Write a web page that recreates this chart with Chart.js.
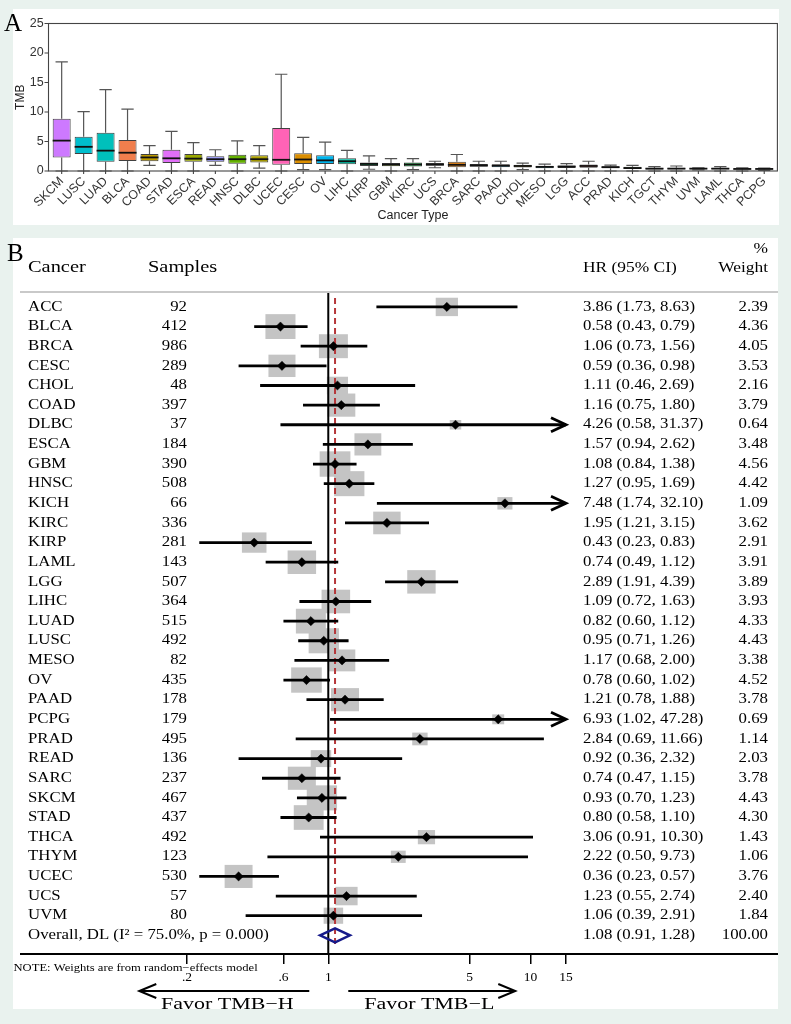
<!DOCTYPE html>
<html>
<head>
<meta charset="utf-8">
<script src="https://cdn.jsdelivr.net/npm/chart.js@4.4.1/dist/chart.umd.min.js"></script>
<style>
  body { margin: 0; background: #e9f2ee; }
  #page { position: relative; width: 791px; height: 1024px; overflow: hidden; background: #e9f2ee; }
  .panel { position: absolute; background: #fff; }
  .panel canvas { display: block; }
  #panelA { left: 13px; top: 9px; width: 766px; height: 216px; }
  #panelB { left: 13px; top: 238px; width: 765px; height: 771px; }
  .tag { position: absolute; z-index: 2; font-family: 'Liberation Serif', serif; font-size: 25px; line-height: 25px; color: #000; }
</style>
</head>
<body>
<div id="page">
  <div class="panel" id="panelA"><canvas id="tmbChart" width="766" height="216"></canvas></div>
  <div class="panel" id="panelB"><canvas id="forestChart" width="765" height="771"></canvas></div>
  <div class="tag" style="left:4px; top:10px;">A</div>
  <div class="tag" style="left:7px; top:240px;">B</div>
</div>
<script>
// ---- A: TMB per cancer type (box stats)
const tmbCancers = ['SKCM','LUSC','LUAD','BLCA','COAD','STAD','ESCA','READ','HNSC','DLBC','UCEC','CESC','OV','LIHC','KIRP','GBM','KIRC','UCS','BRCA','SARC','PAAD','CHOL','MESO','LGG','ACC','PRAD','KICH','TGCT','THYM','UVM','LAML','THCA','PCPG'];
const tmbMin    = [0,0,0,0,0.95,0,0,0.95,0,0.5,0,0.25,0.25,0,0.3,0,0.25,0.55,0,0,0,0.25,0,0,0,0,0,0,0,0.2,0,0,0.1];
const tmbQ1     = [2.3,2.9,1.55,1.7,1.65,1.35,1.55,1.55,1.25,1.45,1.05,1.2,1.2,1.15,0.85,0.8,0.75,0.9,0.65,0.7,0.65,0.6,0.45,0.5,0.55,0.45,0.35,0.25,0.3,0.3,0.3,0.25,0.25];
const tmbMedian = [5.15,4.1,3.45,3.1,2.3,2.15,2.1,2.0,2.0,2.0,1.9,1.95,1.8,1.65,1.2,1.1,1.1,1.1,1.05,0.95,0.9,0.85,0.7,0.75,0.85,0.65,0.5,0.4,0.4,0.4,0.4,0.35,0.35];
const tmbQ3     = [8.85,5.8,6.5,5.25,2.9,3.6,2.9,2.5,2.75,2.65,7.3,3.0,2.65,2.15,1.45,1.35,1.45,1.35,1.55,1.2,1.15,1.05,0.9,0.95,1.1,0.8,0.7,0.5,0.55,0.45,0.5,0.4,0.4];
const tmbMax    = [18.5,10.05,13.8,10.5,4.3,6.7,4.8,3.6,5.1,4.3,16.4,5.7,4.9,3.5,2.55,2.1,2.1,1.65,2.8,1.65,1.65,1.35,1.15,1.25,1.65,1.0,0.95,0.75,0.85,0.55,0.75,0.55,0.5];

// ---- B: forest plot
const fpCancers = ['ACC','BLCA','BRCA','CESC','CHOL','COAD','DLBC','ESCA','GBM','HNSC','KICH','KIRC','KIRP','LAML','LGG','LIHC','LUAD','LUSC','MESO','OV','PAAD','PCPG','PRAD','READ','SARC','SKCM','STAD','THCA','THYM','UCEC','UCS','UVM'];
const fpSamples = [92,412,986,289,48,397,37,184,390,508,66,336,281,143,507,364,515,492,82,435,178,179,495,136,237,467,437,492,123,530,57,80];
const fpHR      = [3.86,0.58,1.06,0.59,1.11,1.16,4.26,1.57,1.08,1.27,7.48,1.95,0.43,0.74,2.89,1.09,0.82,0.95,1.17,0.78,1.21,6.93,2.84,0.92,0.74,0.93,0.80,3.06,2.22,0.36,1.23,1.06];
const fpLower   = [1.73,0.43,0.73,0.36,0.46,0.75,0.58,0.94,0.84,0.95,1.74,1.21,0.23,0.49,1.91,0.72,0.60,0.71,0.68,0.60,0.78,1.02,0.69,0.36,0.47,0.70,0.58,0.91,0.50,0.23,0.55,0.39];
const fpUpper   = [8.63,0.79,1.56,0.98,2.69,1.80,31.37,2.62,1.38,1.69,32.10,3.15,0.83,1.12,4.39,1.63,1.12,1.26,2.00,1.02,1.88,47.28,11.66,2.32,1.15,1.23,1.10,10.30,9.73,0.57,2.74,2.91];
const fpWeight  = [2.39,4.36,4.05,3.53,2.16,3.79,0.64,3.48,4.56,4.42,1.09,3.62,2.91,3.91,3.89,3.93,4.33,4.43,3.38,4.52,3.78,0.69,1.14,2.03,3.78,4.43,4.30,1.43,1.06,3.76,2.40,1.84];
const overallLabel = 'Overall, DL (I\u00B2 = 75.0%, p = 0.000)';
const overallHR = 1.08, overallLower = 0.91, overallUpper = 1.28, overallWeight = 100;
const xTickValues = [0.2, 0.6, 1, 5, 10, 15];
const xTickLabels = ['.2', '.6', '1', '5', '10', '15'];

// ggplot-like hue palette (hcl, c=100, l=65), assigned in alphabetical order
function hcl(h, c, l) {
  const hr = h * Math.PI / 180;
  const U = c * Math.cos(hr), V = c * Math.sin(hr);
  const Xn = 95.047, Yn = 100, Zn = 108.883;
  const un = 4 * Xn / (Xn + 15 * Yn + 3 * Zn), vn = 9 * Yn / (Xn + 15 * Yn + 3 * Zn);
  const Y = l > 8 ? Yn * Math.pow((l + 16) / 116, 3) : Yn * l / 903.3;
  const u = U / (13 * l) + un, v = V / (13 * l) + vn;
  const X = Y * 9 * u / (4 * v), Z = Y * (12 - 3 * u - 20 * v) / (4 * v);
  const x = X / 100, y = Y / 100, z = Z / 100;
  const lin = [3.240479 * x - 1.537150 * y - 0.498535 * z,
              -0.969256 * x + 1.875992 * y + 0.041556 * z,
               0.055648 * x - 0.204043 * y + 1.057311 * z];
  const rgb = lin.map(t => {
    const g = t <= 0.0031308 ? 12.92 * t : 1.055 * Math.pow(t, 1 / 2.4) - 0.055;
    return Math.round(Math.min(1, Math.max(0, g)) * 255);
  });
  return 'rgb(' + rgb.join(',') + ')';
}
const sortedNames = [...tmbCancers].sort();
const boxColors = tmbCancers.map(c => hcl(15 + sortedNames.indexOf(c) * 360 / sortedNames.length, 100, 65));

const sans = 'Liberation Sans';
const serif = 'Liberation Serif';

const boxExtras = {
  id: 'boxExtras',
  beforeDatasetsDraw(chart) {
    const { ctx, scales: { x, y } } = chart;
    const bw = x.getPixelForValue(1) - x.getPixelForValue(0);
    const cap = bw * 0.28;
    ctx.save();
    ctx.strokeStyle = '#555';
    ctx.lineWidth = 1.2;
    tmbCancers.forEach((c, i) => {
      const cx = x.getPixelForValue(i);
      const yMax = y.getPixelForValue(tmbMax[i]), yMin = y.getPixelForValue(tmbMin[i]);
      ctx.beginPath();
      ctx.moveTo(cx, yMax); ctx.lineTo(cx, y.getPixelForValue(tmbQ3[i]));
      ctx.moveTo(cx, y.getPixelForValue(tmbQ1[i])); ctx.lineTo(cx, yMin);
      ctx.moveTo(cx - cap, yMax); ctx.lineTo(cx + cap, yMax);
      ctx.moveTo(cx - cap, yMin); ctx.lineTo(cx + cap, yMin);
      ctx.stroke();
    });
    ctx.restore();
  },
  afterDatasetsDraw(chart) {
    const { ctx, scales: { x, y } } = chart;
    const bars = chart.getDatasetMeta(0).data;
    ctx.save();
    ctx.strokeStyle = '#111';
    ctx.lineWidth = 1.8;
    tmbCancers.forEach((c, i) => {
      const w = bars[i].width / 2, cx = bars[i].x, my = y.getPixelForValue(tmbMedian[i]);
      ctx.beginPath(); ctx.moveTo(cx - w, my); ctx.lineTo(cx + w, my); ctx.stroke();
    });
    // panel frame with ggplot's 0.6 discrete expansion
    const bw = x.getPixelForValue(1) - x.getPixelForValue(0);
    const left = x.getPixelForValue(0) - 0.6 * bw;
    const right = x.getPixelForValue(tmbCancers.length - 1) + 0.6 * bw;
    const top = y.getPixelForValue(y.max), bottom = y.getPixelForValue(y.min);
    ctx.strokeStyle = '#444';
    ctx.lineWidth = 1.1;
    ctx.strokeRect(left, top, right - left, bottom - top);
    ctx.beginPath();
    y.ticks.forEach(t => { const ty = y.getPixelForValue(t.value); ctx.moveTo(left - 4, ty); ctx.lineTo(left, ty); });
    tmbCancers.forEach((c, i) => { const tx = x.getPixelForValue(i); ctx.moveTo(tx, bottom); ctx.lineTo(tx, bottom + 3); });
    ctx.stroke();
    ctx.restore();
  }
};

new Chart(document.getElementById('tmbChart'), {
  type: 'bar',
  data: {
    labels: tmbCancers,
    datasets: [{
      data: tmbCancers.map((c, i) => [tmbQ1[i], tmbQ3[i]]),
      backgroundColor: boxColors,
      borderColor: '#404040',
      borderWidth: 1,
      borderSkipped: false,
      barPercentage: 0.82,
      categoryPercentage: 1
    }]
  },
  options: {
    responsive: false,
    animation: false,
    layout: { padding: { left: 0, right: 3.8, top: 2, bottom: 0 } },
    plugins: { legend: { display: false }, tooltip: { enabled: false } },
    scales: {
      x: {
        grid: { display: false, tickLength: 3 },
        border: { display: false },
        ticks: { autoSkip: false, minRotation: 45, maxRotation: 45, padding: 0, color: '#333', font: { family: sans, size: 12.5 } },
        title: { display: true, text: 'Cancer Type', color: '#222', font: { family: sans, size: 12.5 }, padding: { top: 0, bottom: 2 } },
        afterFit: s => { s.height = 54; }
      },
      y: {
        min: 0,
        max: 25,
        grid: { display: false, drawTicks: false },
        border: { display: false },
        ticks: { stepSize: 5, padding: 7, color: '#333', font: { family: sans, size: 12.5 } },
        title: { display: true, text: 'TMB', color: '#222', font: { family: sans, size: 12 }, padding: 0 },
        afterFit: s => { s.width = 37.7; }
      }
    }
  },
  plugins: [boxExtras]
});

// ---- forest plot helpers
function stretchText(ctx, str, x, y, align, size, sx) {
  ctx.save();
  ctx.font = size + 'px "' + serif + '"';
  ctx.textAlign = align;
  ctx.textBaseline = 'middle';
  ctx.translate(x, y);
  ctx.scale(sx, 1);
  ctx.fillText(str, 0, 0);
  ctx.restore();
}
function arrowHead(ctx, tipX, y, dir, len, half) {
  ctx.beginPath();
  ctx.moveTo(tipX - dir * len, y - half);
  ctx.lineTo(tipX, y);
  ctx.lineTo(tipX - dir * len, y + half);
  ctx.stroke();
}

const forestExtras = {
  id: 'forestExtras',
  beforeDatasetsDraw(chart) {
    const { ctx, chartArea: area, scales: { x, y } } = chart;
    const xmax = x.max, xmin = x.min;
    ctx.save();
    // weight boxes
    ctx.fillStyle = '#c4c4c4';
    fpCancers.forEach((c, i) => {
      const s = Math.sqrt(fpWeight[i]);
      const w = 14.4 * s, h = 11.9 * s;
      ctx.fillRect(x.getPixelForValue(fpHR[i]) - w / 2, y.getPixelForValue(i) - h / 2, w, h);
    });
    // null line and overall line
    ctx.strokeStyle = '#000';
    ctx.lineWidth = 2;
    const x1 = x.getPixelForValue(1);
    ctx.beginPath(); ctx.moveTo(x1, area.top); ctx.lineTo(x1, area.bottom); ctx.stroke();
    ctx.strokeStyle = '#b5373a';
    ctx.setLineDash([6, 4]);
    const xo = x.getPixelForValue(overallHR);
    ctx.beginPath(); ctx.moveTo(xo, y.getPixelForValue(-0.45)); ctx.lineTo(xo, y.getPixelForValue(fpCancers.length + 0.45)); ctx.stroke();
    ctx.setLineDash([]);
    // confidence intervals
    ctx.strokeStyle = '#000';
    ctx.lineWidth = 2.8;
    ctx.lineJoin = 'miter';
    fpCancers.forEach((c, i) => {
      const py = y.getPixelForValue(i);
      const a = x.getPixelForValue(Math.max(fpLower[i], xmin));
      const b = x.getPixelForValue(Math.min(fpUpper[i], xmax));
      ctx.beginPath(); ctx.moveTo(a, py); ctx.lineTo(b, py); ctx.stroke();
      if (fpUpper[i] > xmax) arrowHead(ctx, b, py, 1, 15, 7);
    });
    ctx.restore();
  },
  afterDraw(chart) {
    const { ctx, chartArea: area, scales: { x, y }, width } = chart;
    ctx.save();
    // overall diamond
    const oy = y.getPixelForValue(fpCancers.length);
    ctx.strokeStyle = '#161a8a';
    ctx.lineWidth = 2.5;
    ctx.beginPath();
    ctx.moveTo(x.getPixelForValue(overallLower), oy);
    ctx.lineTo(x.getPixelForValue(overallHR), oy - 7);
    ctx.lineTo(x.getPixelForValue(overallUpper), oy);
    ctx.lineTo(x.getPixelForValue(overallHR), oy + 7);
    ctx.closePath();
    ctx.stroke();
    // header rule and axis rule
    ctx.strokeStyle = '#c9c9c9';
    ctx.lineWidth = 2;
    ctx.beginPath(); ctx.moveTo(7, area.top); ctx.lineTo(width, area.top); ctx.stroke();
    ctx.strokeStyle = '#000';
    ctx.beginPath(); ctx.moveTo(7, area.bottom); ctx.lineTo(width, area.bottom); ctx.stroke();
    // text columns
    ctx.fillStyle = '#000';
    const sx = 1.2;
    const colName = 15, colN = 174, colHR = 570, colW = 755;
    const headY = area.top - 24;
    stretchText(ctx, 'Cancer', colName, headY, 'left', 17, sx);
    stretchText(ctx, 'Samples', 135, headY, 'left', 17, sx);
    stretchText(ctx, 'HR (95% CI)', colHR, headY, 'left', 14.5, sx);
    stretchText(ctx, 'Weight', colW, headY, 'right', 14.5, sx);
    stretchText(ctx, '%', colW, headY - 19, 'right', 14.5, sx);
    fpCancers.forEach((c, i) => {
      const py = y.getPixelForValue(i);
      stretchText(ctx, c, colName, py, 'left', 14, sx);
      stretchText(ctx, String(fpSamples[i]), colN, py, 'right', 14, sx);
      stretchText(ctx, fpHR[i].toFixed(2) + ' (' + fpLower[i].toFixed(2) + ', ' + fpUpper[i].toFixed(2) + ')', colHR, py, 'left', 14, sx);
      stretchText(ctx, fpWeight[i].toFixed(2), colW, py, 'right', 14, sx);
    });
    stretchText(ctx, overallLabel, colName, oy, 'left', 14, sx);
    stretchText(ctx, overallHR.toFixed(2) + ' (' + overallLower.toFixed(2) + ', ' + overallUpper.toFixed(2) + ')', colHR, oy, 'left', 14, sx);
    stretchText(ctx, overallWeight.toFixed(2), colW, oy, 'right', 14, sx);
    stretchText(ctx, 'NOTE: Weights are from random\u2212effects model', 0.5, area.bottom + 14, 'left', 10.5, sx);
    // favour arrows
    const x1 = x.getPixelForValue(1);
    const ay = area.bottom + 37;
    ctx.lineWidth = 2;
    ctx.beginPath(); ctx.moveTo(x1 - 19, ay); ctx.lineTo(x1 - 189, ay); ctx.stroke();
    arrowHead(ctx, x1 - 189, ay, -1, 17, 7);
    ctx.beginPath(); ctx.moveTo(x1 + 20, ay); ctx.lineTo(x1 + 187, ay); ctx.stroke();
    arrowHead(ctx, x1 + 187, ay, 1, 17, 7);
    stretchText(ctx, 'Favor TMB\u2212H', x1 - 101, area.bottom + 51, 'center', 16.5, 1.33);
    stretchText(ctx, 'Favor TMB\u2212L', x1 + 101, area.bottom + 51, 'center', 16.5, 1.33);
    ctx.restore();
  }
};

new Chart(document.getElementById('forestChart'), {
  type: 'scatter',
  data: {
    datasets: [{
      data: fpCancers.map((c, i) => ({ x: fpHR[i], y: i })),
      pointStyle: 'rectRot',
      pointRadius: 4.6,
      backgroundColor: '#000',
      borderColor: '#000',
      borderWidth: 0.5,
      clip: false
    }]
  },
  options: {
    responsive: false,
    animation: false,
    layout: { padding: { left: 174, right: 212, top: 54, bottom: 0 } },
    plugins: { legend: { display: false }, tooltip: { enabled: false } },
    scales: {
      x: {
        type: 'logarithmic',
        min: 0.2,
        max: 15,
        afterBuildTicks: s => { s.ticks = xTickValues.map(v => ({ value: v })); },
        ticks: { autoSkip: false, maxRotation: 0, padding: 5, color: '#000', font: { family: serif, size: 13.5 }, callback: (v, i) => xTickLabels[i] },
        grid: { drawOnChartArea: false, tickLength: 10, color: '#000', lineWidth: 1.5 },
        border: { display: false },
        afterFit: s => { s.height = 55; }
      },
      y: { type: 'linear', min: -0.76, max: 32.95, reverse: true, display: false }
    }
  },
  plugins: [forestExtras]
});
</script>
</body>
</html>
